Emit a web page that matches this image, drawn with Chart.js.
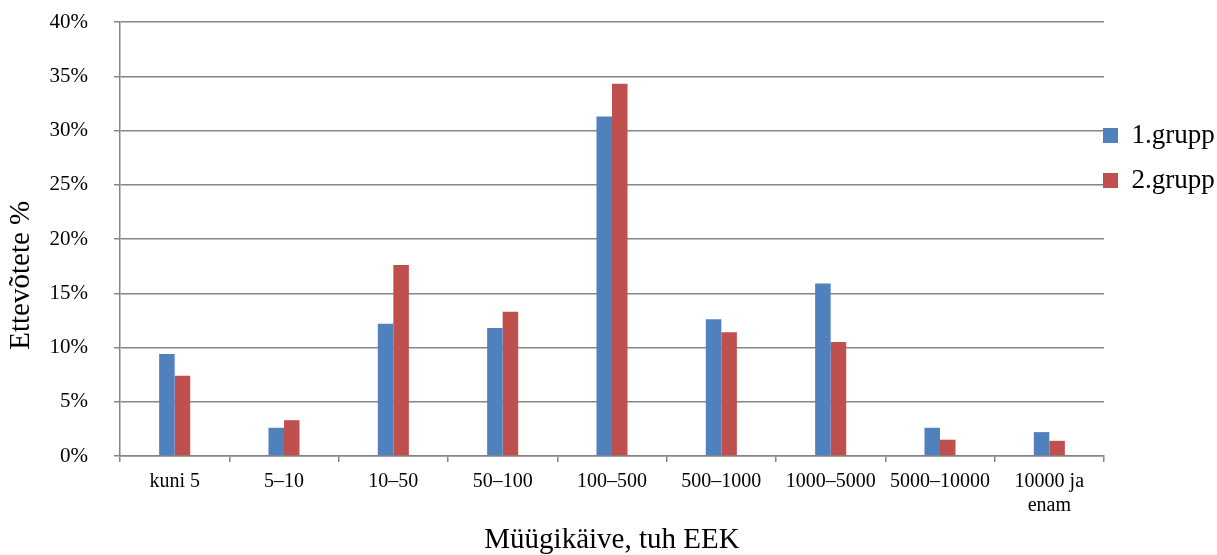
<!DOCTYPE html>
<html>
<head>
<meta charset="utf-8">
<script src="https://cdn.jsdelivr.net/npm/chart.js"></script>
<style>
  body { margin: 0; background: #fff; }
</style>
</head>
<body>
<canvas id="salesChart" width="1217" height="555"></canvas>
<script>
const categories = ['kuni 5', '5–10', '10–50', '50–100', '100–500', '500–1000', '1000–5000', '5000–10000', ['10000 ja', 'enam']];
const group1 = [9.4, 2.6, 12.2, 11.8, 31.3, 12.6, 15.9, 2.6, 2.2];
const group2 = [7.4, 3.3, 17.6, 13.3, 34.3, 11.4, 10.5, 1.5, 1.4];
const yTicks = [0, 5, 10, 15, 20, 25, 30, 35, 40];

const serif = 'Liberation Serif';
const gridGray = '#868686';

// Excel puts the legend tight against the plot, a bit above the middle
const legendNudge = {
  id: 'legendNudge',
  afterLayout(chart) {
    const lg = chart.legend;
    if (!lg) return;
    lg.left -= 19;
    lg.top = chart.chartArea.top + 82;
  }
};

const ctx = document.getElementById('salesChart').getContext('2d');
const salesChart = new Chart(ctx, {
  type: 'bar',
  data: {
    labels: categories,
    datasets: [
      { label: '1.grupp', data: group1, backgroundColor: '#4F81BD', borderWidth: 0 },
      { label: '2.grupp', data: group2, backgroundColor: '#C0504D', borderWidth: 0 }
    ]
  },
  options: {
    responsive: false,
    animation: false,
    layout: { padding: { top: 22, left: 0, right: 0, bottom: 0 } },
    datasets: {
      bar: { categoryPercentage: 0.284, barPercentage: 1.0 }
    },
    plugins: {
      tooltip: { enabled: false },
      legend: {
        position: 'right',
        align: 'start',
        maxWidth: 113,
        labels: {
          boxWidth: 15,
          boxHeight: 15,
          padding: 18,
          color: '#000',
          font: { family: serif, size: 27 }
        }
      }
    },
    scales: {
      x: {
        afterFit(scale) { scale.height = 99; },
        grid: { drawOnChartArea: false, tickLength: 6, color: gridGray, lineWidth: 1.5 },
        border: { color: gridGray, width: 1.5 },
        ticks: {
          color: '#000',
          font: { family: serif, size: 20 },
          padding: 8,
          maxRotation: 0,
          minRotation: 0,
          autoSkip: false
        },
        title: {
          display: true,
          text: 'Müügikäive, tuh EEK',
          color: '#000',
          font: { family: serif, size: 29, lineHeight: 1 },
          padding: { top: 0, bottom: 0 }
        }
      },
      y: {
        min: 0,
        max: 40,
        afterFit(scale) {
          scale.width = 120;
          // tick padding would otherwise push the plot top down
          scale.paddingTop = 12;
          scale.paddingBottom = 12;
        },
        afterBuildTicks(scale) { scale.ticks = yTicks.map(v => ({ value: v })); },
        grid: { color: gridGray, lineWidth: 1.5, tickLength: 6 },
        border: { color: gridGray, width: 1.5 },
        ticks: {
          color: '#000',
          font: { family: serif, size: 21 },
          padding: 26,
          callback: v => v + '%'
        },
        title: {
          display: true,
          text: 'Ettevõtete %' + '\u00a0'.repeat(10),
          color: '#000',
          font: { family: serif, size: 29, lineHeight: 1 },
          padding: { top: 7, bottom: 0 }
        }
      }
    }
  },
  plugins: [legendNudge]
});
</script>
</body>
</html>
